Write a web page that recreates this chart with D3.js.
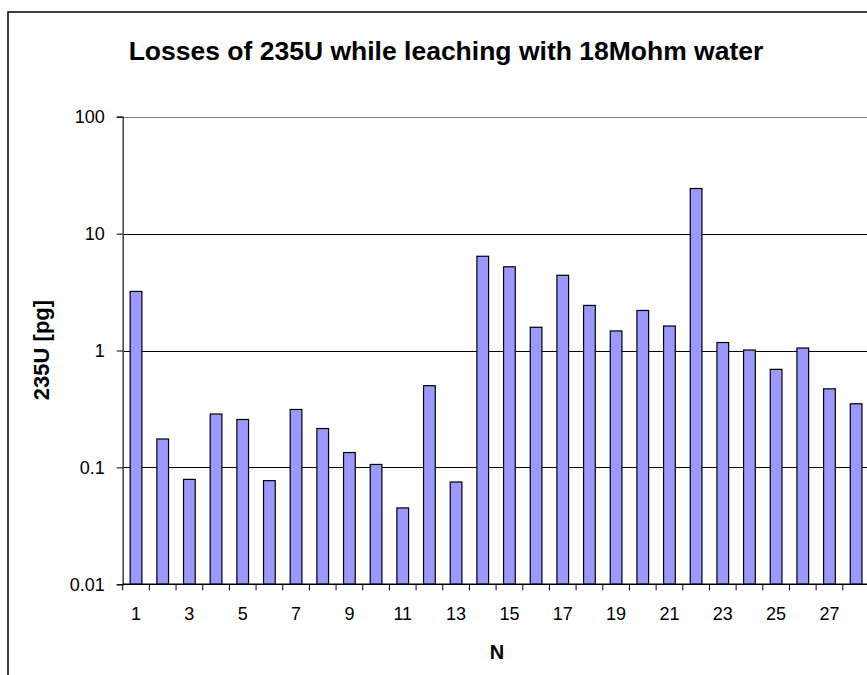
<!DOCTYPE html>
<html>
<head>
<meta charset="utf-8">
<script src="https://cdn.jsdelivr.net/npm/d3@7/dist/d3.min.js"></script>
<style>
  html, body { margin: 0; padding: 0; background: #fff; }
  svg { display: block; }
  text { font-family: Arial, "Liberation Sans", sans-serif; fill: #000; }
</style>
</head>
<body>
<div id="chart"></div>
<script>
(function(){
  var TITLE = 'Losses of 235U while leaching with 18Mohm water';
  var X_TITLE = 'N';
  var Y_TITLE = '235U [pg]';

  var categories = [1, 2, 3, 4, 5, 6, 7, 8, 9, 10, 11, 12, 13, 14, 15, 16, 17, 18, 19, 20, 21, 22, 23, 24, 25, 26, 27, 28];
  var values = [3.2, 0.175, 0.079, 0.286, 0.257, 0.077, 0.313, 0.215, 0.134, 0.106, 0.045, 0.5, 0.075, 6.4, 5.2, 1.58, 4.4, 2.43, 1.47, 2.2, 1.62, 24.3, 1.17, 1.01, 0.69, 1.05, 0.47, 0.35];
  var yTicks = [0.01, 0.1, 1, 10, 100];
  var yTickLabels = ['0.01', '0.1', '1', '10', '100'];

  var W = 867, H = 675;
  var plot = { left: 122.7, top: 116.7, bottom: 584.3, step: 26.67 };
  plot.right = plot.left + plot.step * categories.length;

  var svg = d3.select('#chart').append('svg').attr('width', W).attr('height', H);

  // chart border (runs off the right and bottom edge)
  svg.append('rect').attr('x', 8).attr('y', 12).attr('width', 900).attr('height', 700)
    .attr('fill', '#fff').attr('stroke', '#000').attr('stroke-width', 1.5);

  var x = d3.scaleBand().domain(categories).range([plot.left, plot.right]).padding(0);
  var y = d3.scaleLog().domain([0.01, 100]).range([plot.bottom, plot.top]);
  var barW = 11.7;

  // gridlines
  svg.append('g').selectAll('line').data(yTicks.slice(1)).join('line')
    .attr('x1', plot.left).attr('x2', plot.right)
    .attr('y1', function(d){ return Math.round(y(d)) + 0.5; })
    .attr('y2', function(d){ return Math.round(y(d)) + 0.5; })
    .attr('stroke', function(d){ return d === 100 ? '#808080' : '#000'; }).attr('stroke-width', 1);

  // bars
  svg.append('g').selectAll('rect').data(values).join('rect')
    .attr('x', function(d, i){ return x(categories[i]) + (x.bandwidth() - barW) / 2; })
    .attr('y', function(d){ return y(d); })
    .attr('width', barW)
    .attr('height', function(d){ return y(0.01) - y(d); })
    .attr('fill', '#9999ff').attr('stroke', '#000').attr('stroke-width', 1.2);

  // y axis
  var yAxis = d3.axisLeft(y).tickValues(yTicks).tickSize(6).tickPadding(12)
    .tickFormat(function(d, i){ return yTickLabels[i]; });
  var gy = svg.append('g').attr('transform', 'translate(' + plot.left + ',0)').call(yAxis);
  gy.select('.domain').attr('stroke', '#404040').attr('stroke-width', 1.5);
  gy.selectAll('.tick line').attr('stroke', '#000');
  gy.selectAll('.tick text').style('font-size', '18px').attr('fill', '#000');

  // x axis: ticks at category boundaries, labels on odd categories
  var gx = svg.append('g');
  gx.append('line').attr('x1', plot.left).attr('x2', plot.right)
    .attr('y1', plot.bottom).attr('y2', plot.bottom).attr('stroke', '#000').attr('stroke-width', 1.5);
  gx.selectAll('line.tk').data(categories).join('line').attr('class', 'tk')
    .attr('x1', function(d){ return x(d); }).attr('x2', function(d){ return x(d); })
    .attr('y1', plot.bottom).attr('y2', plot.bottom + 6).attr('stroke', '#000');
  gx.selectAll('text').data(categories.filter(function(d){ return d % 2 === 1; })).join('text')
    .attr('x', function(d){ return x(d) + x.bandwidth() / 2; })
    .attr('y', plot.bottom + 36)
    .attr('text-anchor', 'middle').style('font-size', '18px')
    .text(function(d){ return d; });

  // titles
  svg.append('text').attr('x', 446).attr('y', 60).attr('text-anchor', 'middle')
    .style('font-size', '26.5px').style('font-weight', 'bold').text(TITLE);
  svg.append('text').attr('x', 497).attr('y', 659).attr('text-anchor', 'middle')
    .style('font-size', '20px').style('font-weight', 'bold').text(X_TITLE);
  svg.append('text').attr('transform', 'translate(49,350) rotate(-90)').attr('text-anchor', 'middle')
    .style('font-size', '22px').style('font-weight', 'bold').text(Y_TITLE);
})();
</script>
</body>
</html>
